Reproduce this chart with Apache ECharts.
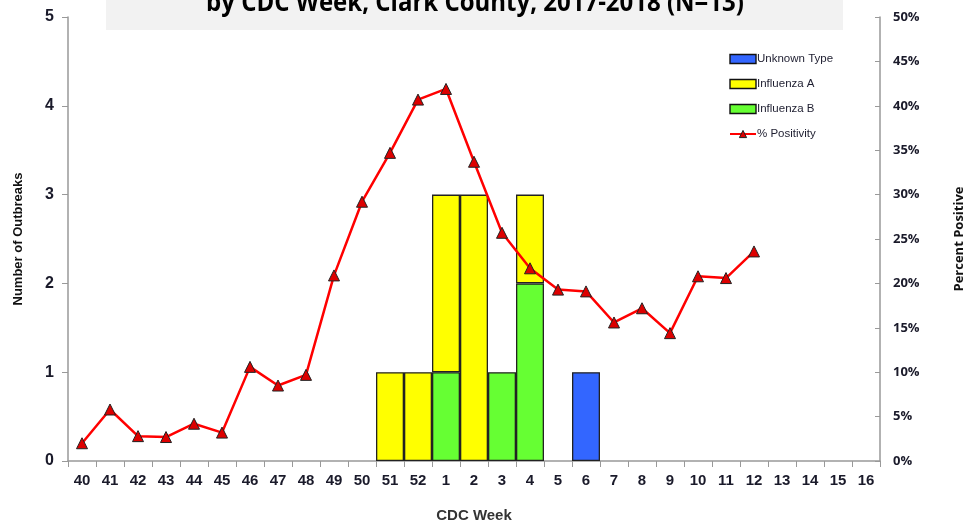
<!DOCTYPE html>
<html><head><meta charset="utf-8">
<script src="https://cdn.jsdelivr.net/npm/echarts@6/dist/echarts.min.js"></script>
<style>html,body{margin:0;padding:0;background:#fff}#c{width:964px;height:525px}</style>
</head><body><div id="c"></div>
<script>
const weeks = ['40','41','42','43','44','45','46','47','48','49','50','51','52','1','2','3','4','5','6','7','8','9','10','11','12','13','14','15','16'];
const fluB    = [0,0,0,0,0,0,0,0,0,0,0,0,0,1,0,1,2,0,0,0,0,0,0,0,0,0,0,0,0];
const fluA    = [0,0,0,0,0,0,0,0,0,0,0,1,1,2,3,0,1,0,0,0,0,0,0,0,0,0,0,0,0];
const unknown = [0,0,0,0,0,0,0,0,0,0,0,0,0,0,0,0,0,0,1,0,0,0,0,0,0,0,0,0,0];
const positivity = [2.0,5.8,2.8,2.7,4.2,3.2,10.6,8.5,9.7,20.9,29.2,34.7,40.7,41.9,33.7,25.7,21.7,19.3,19.1,15.6,17.2,14.4,20.8,20.6,23.6,null,null,null,null];
const leftTicks = [0,1,2,3,4,5];
const rightTicks = [0,5,10,15,20,25,30,35,40,45,50];
const titleText = 'by CDC Week, Clark County, 2017-2018 (N=13)';

const chart = echarts.init(document.getElementById('c'), null, {renderer:'canvas'});
const nz = a => a.map(v => v === 0 ? '-' : v);
const barStyle = c => ({color:c, borderColor:'#222', borderWidth:1.3});
chart.setOption({
  animation:false,
  graphic:[
    {type:'rect', shape:{x:106,y:0,width:737,height:30}, style:{fill:'#f2f2f2'}, z:-1},
    {type:'text', x:475, y:19, scaleY:1.1, originY:19, style:{text:titleText, font:'bold 24px "Open Sans", sans-serif', fill:'#000', align:'center', verticalAlign:'bottom'}}
  ],
  grid:{left:68,right:84,top:17,bottom:64,containLabel:false,outerBoundsMode:'none'},
  legend:{
    orient:'vertical', left:724, top:48, itemGap:13, itemWidth:26, itemHeight:9, itemStyle:{borderColor:'#111',borderWidth:1.4},
    textStyle:{fontFamily:'"Liberation Sans", sans-serif', fontSize:11.5, color:'#1e1e30', padding:[0,0,0,-4]},
    data:[
      {name:'Unknown Type', icon:'rect'},
      {name:'Influenza A', icon:'rect'},
      {name:'Influenza B', icon:'rect'},
      {name:'% Positivity', itemStyle:{borderWidth:1, borderColor:'#222'}}
    ]
  },
  xAxis:{
    type:'category', data:weeks, boundaryGap:true,
    name:'CDC Week', nameLocation:'middle', nameGap:47,
    nameTextStyle:{fontFamily:'"Liberation Sans", sans-serif', fontWeight:'bold', fontSize:15, color:'#333'},
    axisLine:{lineStyle:{color:'#999',width:1.5}},
    axisTick:{show:true, length:6, lineStyle:{color:'#999'}},
    axisLabel:{fontFamily:'"Liberation Sans", sans-serif', fontWeight:'bold', fontSize:15, color:'#1a1a2a', margin:12, interval:0},
    splitLine:{show:false}
  },
  yAxis:[
    {type:'value', min:0, max:5, interval:1, position:'left',
     name:'Number of Outbreaks', nameLocation:'middle', nameGap:43, nameRotate:90,
     nameTextStyle:{fontFamily:'"Liberation Sans Narrow", "Liberation Sans", sans-serif', fontWeight:'bold', fontSize:13, color:'#111'},
     axisLine:{show:true, lineStyle:{color:'#999',width:1.5}},
     axisTick:{show:true, length:6, lineStyle:{color:'#999'}},
     axisLabel:{fontFamily:'"Liberation Sans", sans-serif', fontWeight:'bold', fontSize:16, color:'#1a1a2a', margin:14},
     splitLine:{show:false}},
    {type:'value', min:0, max:50, interval:5, position:'right',
     name:'Percent Positive', nameLocation:'middle', nameGap:73, nameRotate:90,
     nameTextStyle:{fontFamily:'"Open Sans", sans-serif', fontWeight:'bold', fontSize:13, color:'#111'},
     axisLine:{show:true, lineStyle:{color:'#999',width:1.5}},
     axisTick:{show:true, inside:true, length:5, lineStyle:{color:'#999'}},
     axisLabel:{fontFamily:'"Open Sans", sans-serif', fontWeight:'bold', fontSize:13, color:'#1a1a2a', margin:13, formatter:'{value}%'},
     splitLine:{show:false}}
  ],
  series:[
    {name:'Influenza B', type:'bar', stack:'o', data:nz(fluB), barCategoryGap:'0%', itemStyle:barStyle('#66ff33')},
    {name:'Influenza A', type:'bar', stack:'o', data:nz(fluA), barCategoryGap:'0%', itemStyle:barStyle('#ffff00')},
    {name:'Unknown Type', type:'bar', stack:'o', data:nz(unknown), barCategoryGap:'0%', itemStyle:barStyle('#3366ff')},
    {name:'% Positivity', type:'line', yAxisIndex:1, data:positivity, symbol:'triangle', symbolSize:11,
     lineStyle:{color:'#ff0000', width:2.5}, itemStyle:{color:'#dd0000', borderColor:'#222', borderWidth:1}, z:5}
  ]
});
</script></body></html>
